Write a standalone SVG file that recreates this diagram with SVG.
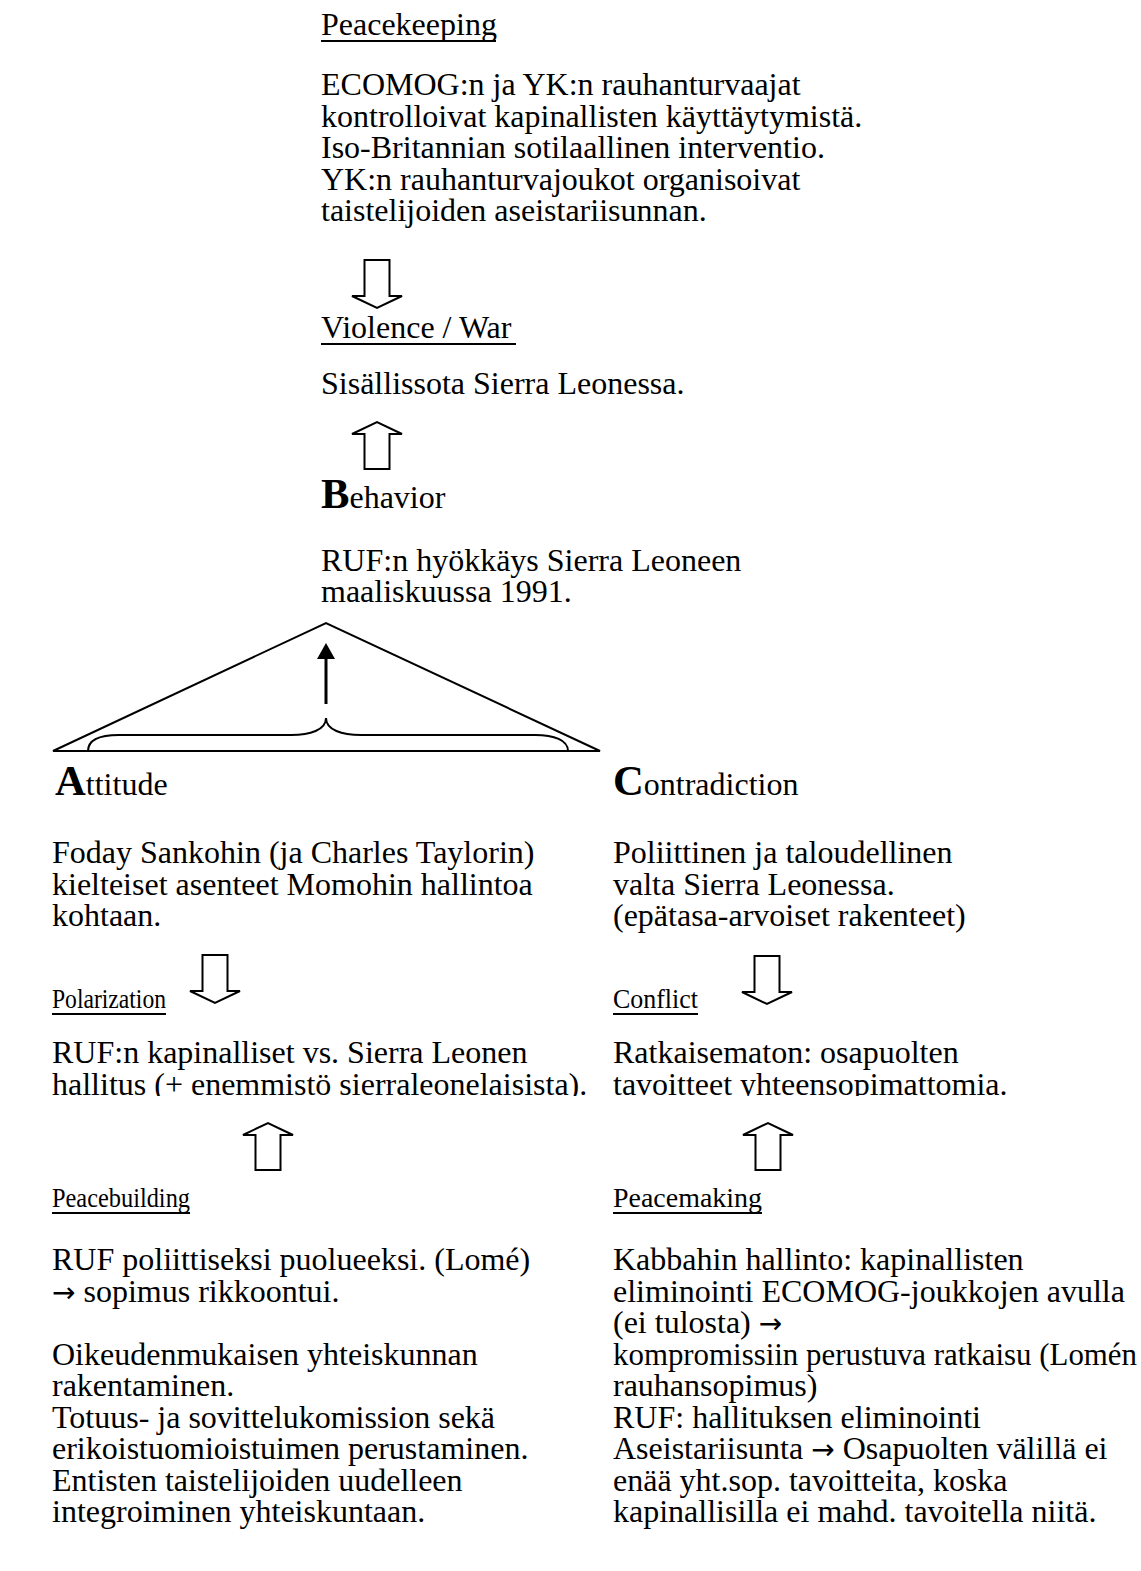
<svg xmlns="http://www.w3.org/2000/svg" width="1141" height="1571" viewBox="0 0 1141 1571">
<style>
text{font-family:"Liberation Serif","Times New Roman",serif;font-size:32px;fill:#000}
.big{font-size:42.67px;font-weight:bold}
.hd{font-size:27px}
.ar{font-family:"DejaVu Sans",sans-serif;font-size:28px}
.ul{stroke:#000;stroke-width:2}
.harrow{fill:#fff;stroke:#000;stroke-width:2;stroke-linejoin:miter}
.ln{fill:none;stroke:#000;stroke-width:2}
</style>
<defs>
<path id="down" d="M-12.5,-48 H12.5 V-12 H25 L0,0 L-25,-12 H-12.5 Z"/>
<path id="up" d="M-12.5,47 H12.5 V12 H25 L0,0 L-25,12 H-12.5 Z"/>
<clipPath id="clipL"><rect x="0" y="1065" width="600" height="31"/></clipPath>
<clipPath id="clipR"><rect x="600" y="1065" width="541" height="31"/></clipPath>
</defs>

<g id="peacekeeping">
<text x="321" y="35">Peacekeeping</text>
<line class="ul" x1="321" y1="41" x2="496" y2="41"/>
<text x="321" y="95">ECOMOG:n ja YK:n rauhanturvaajat</text>
<text x="321" y="126.5">kontrolloivat kapinallisten käyttäytymistä.</text>
<text x="321" y="158">Iso-Britannian sotilaallinen interventio.</text>
<text x="321" y="189.5">YK:n rauhanturvajoukot organisoivat</text>
<text x="321" y="221">taistelijoiden aseistariisunnan.</text>
</g>

<g id="violence">
<text x="321" y="338">Violence / War</text>
<line class="ul" x1="321" y1="344" x2="516" y2="344"/>
<text x="321" y="394">Sisällissota Sierra Leonessa.</text>
</g>

<g id="behavior">
<text x="321" y="508"><tspan class="big">B</tspan>ehavior</text>
<text x="321" y="571">RUF:n hyökkäys Sierra Leoneen</text>
<text x="321" y="602">maaliskuussa 1991.</text>
</g>

<g id="triangle">
<path class="ln" d="M53,751 L326,623 L600,751 Z"/>
<path class="ln" d="M88,751 C88,740 100,735 119,735 H291 C310,735 326,730 326,718 C326,730 342,735 361,735 H535 C554,735 568,740 568,751"/>
</g>

<g id="attitude">
<text x="55" y="795"><tspan class="big">A</tspan>ttitude</text>
<text x="52" y="863">Foday Sankohin (ja Charles Taylorin)</text>
<text x="52" y="894.5">kielteiset asenteet Momohin hallintoa</text>
<text x="52" y="926">kohtaan.</text>
</g>

<g id="contradiction">
<text x="613" y="795"><tspan class="big">C</tspan>ontradiction</text>
<text x="613" y="863">Poliittinen ja taloudellinen</text>
<text x="613" y="894.5">valta Sierra Leonessa.</text>
<text x="613" y="926">(epätasa-arvoiset rakenteet)</text>
</g>

<g id="polarization">
<text class="hd" x="52" y="1008" textLength="114" lengthAdjust="spacingAndGlyphs">Polarization</text>
<line class="ul" x1="52" y1="1014" x2="166" y2="1014"/>
<text x="52" y="1063">RUF:n kapinalliset vs. Sierra Leonen</text>
<text x="52" y="1094.5" clip-path="url(#clipL)">hallitus (+ enemmistö sierraleonelaisista).</text>
</g>

<g id="conflict">
<text class="hd" x="613" y="1008" textLength="85" lengthAdjust="spacingAndGlyphs">Conflict</text>
<line class="ul" x1="613" y1="1014" x2="698" y2="1014"/>
<text x="613" y="1063">Ratkaisematon: osapuolten</text>
<text x="613" y="1094.5" clip-path="url(#clipR)">tavoitteet yhteensopimattomia.</text>
</g>

<g id="peacebuilding">
<text class="hd" x="52" y="1207" textLength="138" lengthAdjust="spacingAndGlyphs">Peacebuilding</text>
<line class="ul" x1="52" y1="1213" x2="190" y2="1213"/>
<text x="52" y="1270">RUF poliittiseksi puolueeksi. (Lomé)</text>
<text x="52" y="1301.5"><tspan class="ar">→</tspan> sopimus rikkoontui.</text>
<text x="52" y="1364.5">Oikeudenmukaisen yhteiskunnan</text>
<text x="52" y="1396">rakentaminen.</text>
<text x="52" y="1427.5">Totuus- ja sovittelukomission sekä</text>
<text x="52" y="1459">erikoistuomioistuimen perustaminen.</text>
<text x="52" y="1490.5">Entisten taistelijoiden uudelleen</text>
<text x="52" y="1522">integroiminen yhteiskuntaan.</text>
</g>

<g id="peacemaking">
<text class="hd" x="613" y="1207" textLength="149" lengthAdjust="spacingAndGlyphs">Peacemaking</text>
<line class="ul" x1="613" y1="1213" x2="762" y2="1213"/>
<text x="613" y="1270">Kabbahin hallinto: kapinallisten</text>
<text x="613" y="1301.5">eliminointi ECOMOG-joukkojen avulla</text>
<text x="613" y="1333">(ei tulosta) <tspan class="ar">→</tspan></text>
<text x="613" y="1364.5" textLength="524" lengthAdjust="spacingAndGlyphs">kompromissiin perustuva ratkaisu (Lomén</text>
<text x="613" y="1396">rauhansopimus)</text>
<text x="613" y="1427.5">RUF: hallituksen eliminointi</text>
<text x="613" y="1459">Aseistariisunta <tspan class="ar">→</tspan> Osapuolten välillä ei</text>
<text x="613" y="1490.5">enää yht.sop. tavoitteita, koska</text>
<text x="613" y="1522">kapinallisilla ei mahd. tavoitella niitä.</text>
</g>

<g id="connectors">
<use href="#down" class="harrow" x="377" y="308"/>
<use href="#up" class="harrow" x="377" y="422"/>
<use href="#down" class="harrow" x="215" y="1003"/>
<use href="#down" class="harrow" x="767" y="1004"/>
<use href="#up" class="harrow" x="268" y="1123"/>
<use href="#up" class="harrow" x="768" y="1123"/>
<line x1="326" y1="704" x2="326" y2="655" stroke="#000" stroke-width="3"/>
<path d="M326,643 L335,659 L317,659 Z" fill="#000"/>
</g>
</svg>
